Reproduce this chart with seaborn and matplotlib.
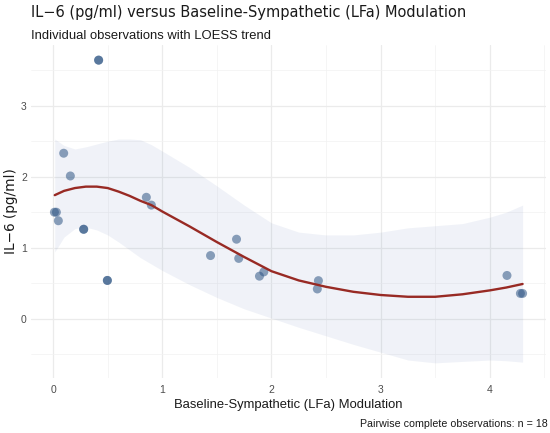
import numpy as np
import pandas as pd
import matplotlib
matplotlib.use("Agg")
import matplotlib.pyplot as plt
import seaborn as sns

# ---- observations (dark marks = overlapping points) ----
lfa_modulation = [0.012, 0.030, 0.048, 0.097, 0.158, 0.280, 0.280, 0.417, 0.417,
                  0.497, 0.497, 0.854, 0.900, 1.442, 1.680, 1.700, 1.890, 1.930,
                  2.430, 2.420, 4.157, 4.280, 4.300]
il6_pgml = [1.50, 1.50, 1.38, 2.33, 2.01, 1.26, 1.26, 3.64, 3.64,
            0.54, 0.54, 1.71, 1.60, 0.89, 1.12, 0.85, 0.60, 0.66,
            0.537, 0.42, 0.61, 0.357, 0.357]

# ---- LOESS trend and its 95% band ----
trend_x = [0.015, 0.1, 0.2, 0.3, 0.4, 0.5, 0.6, 0.7, 0.8, 0.9, 1.0, 1.25, 1.5, 1.75, 2.0,
           2.25, 2.5, 2.75, 3.0, 3.25, 3.5, 3.75, 4.0, 4.15, 4.3]
trend_fit = [1.74, 1.80, 1.84, 1.86, 1.86, 1.84, 1.79, 1.73, 1.66, 1.60, 1.51, 1.30, 1.08, 0.87, 0.67,
             0.54, 0.45, 0.38, 0.335, 0.31, 0.31, 0.345, 0.40, 0.44, 0.49]
trend_upper = [2.53, 2.44, 2.39, 2.42, 2.46, 2.50, 2.53, 2.53, 2.52, 2.45, 2.36, 2.13, 1.87, 1.60, 1.35,
               1.22, 1.18, 1.18, 1.22, 1.28, 1.31, 1.34, 1.43, 1.50, 1.60]
trend_lower = [0.94, 1.15, 1.27, 1.29, 1.25, 1.18, 1.08, 0.97, 0.86, 0.77, 0.68, 0.48, 0.30, 0.14, 0.01,
               -0.12, -0.24, -0.36, -0.47, -0.58, -0.62, -0.60, -0.58, -0.59, -0.61]

x_ticks = [0, 1, 2, 3, 4]
y_ticks = [0, 1, 2, 3]
x_minor = [0.5, 1.5, 2.5, 3.5, 4.5]
y_minor = [-0.5, 0.5, 1.5, 2.5, 3.5]

title = "IL\u22126 (pg/ml) versus Baseline-Sympathetic (LFa) Modulation"
subtitle = "Individual observations with LOESS trend"
x_label = "Baseline-Sympathetic (LFa) Modulation"
y_label = "IL\u22126 (pg/ml)"
caption = "Pairwise complete observations: n = 18"

df_pts = pd.DataFrame({"x": lfa_modulation, "y": il6_pgml})
df_fit = pd.DataFrame({"x": trend_x, "fit": trend_fit, "lo": trend_lower, "hi": trend_upper})

sns.set_theme(style="white")
plt.rcParams["font.family"] = ["Liberation Sans", "DejaVu Sans"]

W, H = 550, 433
fig = plt.figure(figsize=(W / 100, H / 100), dpi=100)
ax = fig.add_axes([31 / W, 1 - 378 / H, (546 - 31) / W, (378 - 45) / H])

ax.fill_between(df_fit.x, df_fit.lo, df_fit.hi, color="#3B5BA5", alpha=0.075, linewidth=0, zorder=1)
sns.scatterplot(data=df_pts, x="x", y="y", ax=ax, s=42, color="#2F5685", alpha=0.55,
                edgecolor="none", zorder=2, legend=False)
sns.lineplot(data=df_fit, x="x", y="fit", ax=ax, color="#982A24", linewidth=1.7, zorder=3)

ax.set_xticks(x_ticks)
ax.set_yticks(y_ticks)
ax.set_xticks(x_minor, minor=True)
ax.set_yticks(y_minor, minor=True)

xr = df_pts.x.max() - df_pts.x.min()
ax.set_xlim(df_pts.x.min() - 0.05 * xr, df_pts.x.max() + 0.05 * xr)
ymin = min(df_pts.y.min(), df_fit.lo.min())
ymax = max(df_pts.y.max(), df_fit.hi.max())
yr = ymax - ymin
ax.set_ylim(ymin - 0.05 * yr, ymax + 0.05 * yr)

ax.grid(True, which="major", color="#EBEBEB", linewidth=0.9, zorder=0)
ax.grid(True, which="minor", color="#F2F2F2", linewidth=0.5, zorder=0)
ax.set_axisbelow(True)
for s in ax.spines.values():
    s.set_visible(False)
ax.tick_params(axis="both", which="both", length=0, labelsize=7.5, labelcolor="#4D4D4D", pad=3)
ax.tick_params(axis="x", pad=5)

ax.set_xlabel(x_label, fontsize=9.4, color="#1A1A1A", labelpad=3)
ax.set_ylabel(y_label, fontsize=9.8, color="#1A1A1A", labelpad=2, family="DejaVu Sans")

fig.text(31 / W, 1 - 17.5 / H, title, fontsize=10.5, family="DejaVu Sans", color="#1A1A1A",
         ha="left", va="baseline")
fig.text(31 / W, 1 - 38.8 / H, subtitle, fontsize=9.4, color="#1A1A1A", ha="left", va="baseline")
fig.text(548 / W, 1 - 427 / H, caption, fontsize=7.7, color="#1A1A1A", ha="right", va="baseline")

fig.savefig("out.png", dpi=100)
